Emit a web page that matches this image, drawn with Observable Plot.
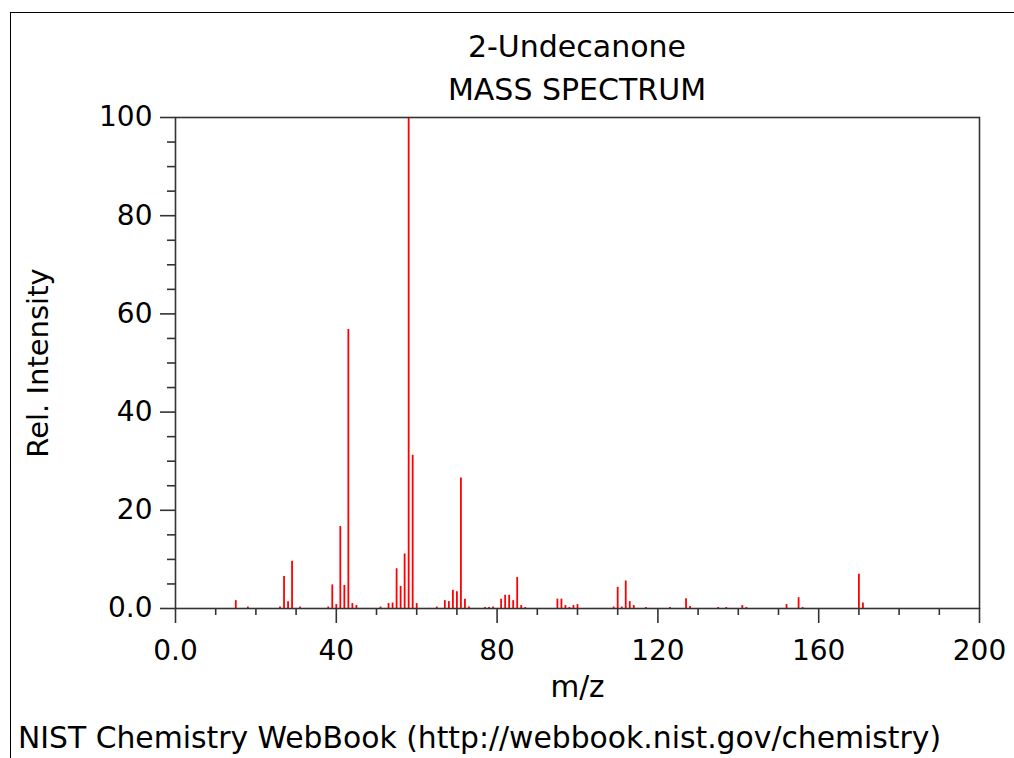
<!DOCTYPE html>
<html>
<head>
<meta charset="utf-8">
<script src="https://cdn.jsdelivr.net/npm/d3@7"></script>
<script src="https://cdn.jsdelivr.net/npm/@observablehq/plot@0.6"></script>
<style>
  html, body { margin: 0; padding: 0; background: #fff; }
  #page { position: relative; width: 1014px; height: 758px; overflow: hidden; font-family: "DejaVu Sans", sans-serif; color: #000; }
  #border { position: absolute; left: 10px; top: 12px; width: 1200px; height: 900px; border-left: 1px solid #000; border-top: 1px solid #000; box-sizing: border-box; }
  #title { position: absolute; left: 327px; width: 500px; top: 25px; text-align: center; font-size: 30px; line-height: 43px; white-space: nowrap; }
  #footer { position: absolute; left: 18px; top: 718px; font-size: 29.8px; line-height: 40px; white-space: nowrap; }
  #chart { position: absolute; left: 0; top: 0; }
</style>
</head>
<body>
<div id="page">
  <div id="border"></div>
  <div id="chart"></div>
  <div id="title">2-Undecanone<br>MASS SPECTRUM</div>
  <div id="footer">NIST Chemistry WebBook (http://webbook.nist.gov/chemistry)</div>
</div>
<script>
// m/z values and relative intensities
const mz = [15, 18, 26, 27, 28, 29, 31, 38, 39, 40, 41, 42, 43, 44, 45, 51, 53, 54, 55, 56, 57, 58, 59, 60,
  65, 67, 68, 69, 70, 71, 72, 73, 77, 78, 79, 81, 82, 83, 84, 85, 86, 87, 95, 96, 97, 98, 99, 100,
  109, 110, 111, 112, 113, 114, 117, 123, 127, 128, 135, 137, 141, 142, 152, 155, 156, 170, 171];
const intensity = [1.6, 0.3, 0.3, 6.5, 1.4, 9.6, 0.3, 0.3, 4.8, 0.8, 16.7, 4.7, 56.8, 1.0, 0.6, 0.3, 1.0, 1.1, 8.1, 4.5, 11.1, 100, 31.2, 1.0,
  0.3, 1.6, 1.4, 3.7, 3.4, 26.6, 1.9, 0.3, 0.2, 0.2, 0.3, 1.9, 2.7, 2.7, 1.6, 6.3, 0.6, 0.2, 1.9, 1.9, 0.6, 0.2, 0.6, 0.8,
  0.3, 4.3, 0.3, 5.6, 1.4, 0.6, 0.2, 0.2, 2.0, 0.4, 0.2, 0.2, 0.6, 0.2, 0.8, 2.2, 0.2, 7.0, 1.1];

const xMajor = [0, 40, 80, 120, 160, 200];
const xMinor = [10, 20, 30, 50, 60, 70, 90, 100, 110, 130, 140, 150, 170, 180, 190];
const yMajor = [0, 20, 40, 60, 80, 100];
const yMinor = [5, 10, 15, 25, 30, 35, 45, 50, 55, 65, 70, 75, 85, 90, 95];
const xLabel = "m/z";
const yLabel = "Rel. Intensity";

const peaks = mz.map((m, i) => ({mz: m, intensity: intensity[i]}));
const fmt = d => d === 0 ? "0.0" : String(d);
const axisColor = "#333";

const chart = Plot.plot({
  width: 1014,
  height: 710,
  marginLeft: 175,
  marginRight: 35,
  marginTop: 117,
  marginBottom: 102,
  style: {fontFamily: "DejaVu Sans, sans-serif", fontSize: "28px", color: "#000", background: "transparent", overflow: "visible"},
  x: {domain: [0, 200]},
  y: {domain: [0, 100]},
  marks: [
    Plot.ruleX(peaks, {x: "mz", y1: 0, y2: "intensity", stroke: "#ff0000", strokeWidth: 1.8}),
    Plot.frame({stroke: axisColor, strokeWidth: 1.6}),
    Plot.axisX(xMajor, {tickSize: 15, tickPadding: 17, tickFormat: fmt, stroke: axisColor, strokeWidth: 1.6, fontSize: 28, label: null}),
    Plot.axisX(xMinor, {tickSize: 7, tickFormat: () => "", stroke: axisColor, strokeWidth: 1.6, label: null}),
    Plot.axisY(yMajor, {tickSize: 15, tickPadding: 8, tickFormat: fmt, stroke: axisColor, strokeWidth: 1.6, fontSize: 28, label: null}),
    Plot.axisY(yMinor, {tickSize: 8, tickFormat: () => "", stroke: axisColor, strokeWidth: 1.6, label: null}),
    Plot.text([xLabel], {frameAnchor: "bottom", dy: 79, fontSize: 29.5, fill: "#000", textAnchor: "middle", lineAnchor: "middle", text: d => d}),
    Plot.text([yLabel], {frameAnchor: "left", dx: -137, rotate: -90, fontSize: 29, fill: "#000", textAnchor: "middle", lineAnchor: "middle", text: d => d})
  ]
});
document.getElementById("chart").appendChild(chart);
</script>
</body>
</html>
